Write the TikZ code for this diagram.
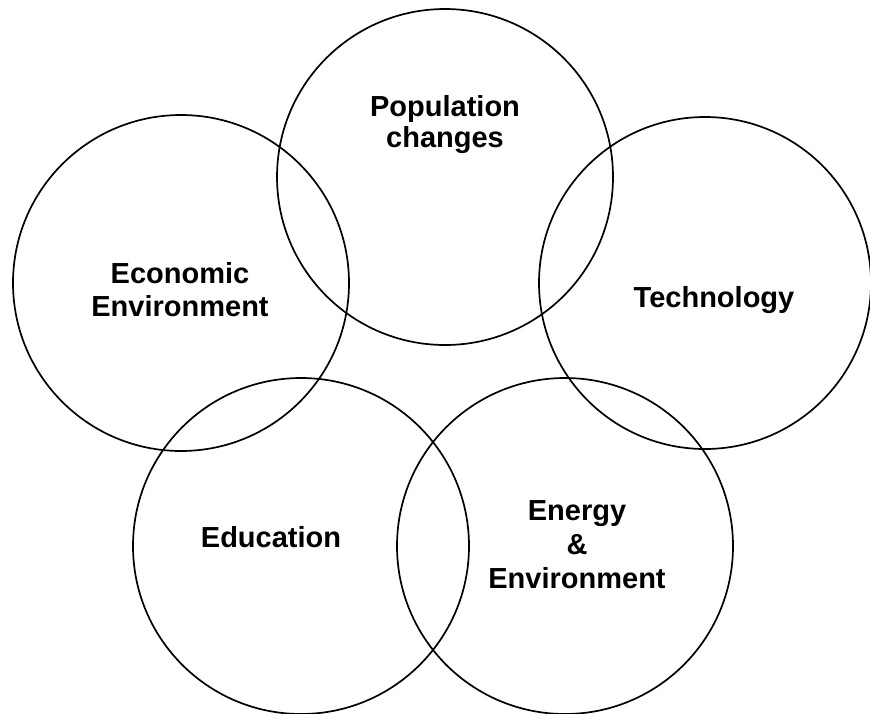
\documentclass[tikz,border=0pt]{standalone}
\usepackage{fontspec}
\setmainfont{Liberation Sans}
\begin{document}
\begin{tikzpicture}[x=1pt,y=-1pt,
  ring/.style={draw=black,line width=1.7pt,circle,inner sep=0pt},
  lbl/.style={align=center,inner sep=0pt,font=\bfseries\fontsize{29}{33}\selectfont}]
\useasboundingbox (0,0) rectangle (870,713);
\node[ring,minimum size=336pt] (pop) at (445,177) {};
\node[ring,minimum size=336pt] (eco) at (181,283) {};
\node[ring,minimum size=332pt] (tec) at (705,283) {};
\node[ring,minimum size=336pt] (edu) at (301,546) {};
\node[ring,minimum size=336pt] (ene) at (565,546) {};
\node[lbl] (tpop) at (445,125) {Population\\[-2pt]changes};
\node[lbl] (teco) at (180,290) {Economic\\Environment};
\node[lbl] (ttec) at (714,300) {Technology};
\node[lbl] (tedu) at (271,537) {Education};
\node[lbl] (tene) at (577,545) {Energy\\[1pt]\&\\[1pt]Environment};
\end{tikzpicture}
\end{document}
